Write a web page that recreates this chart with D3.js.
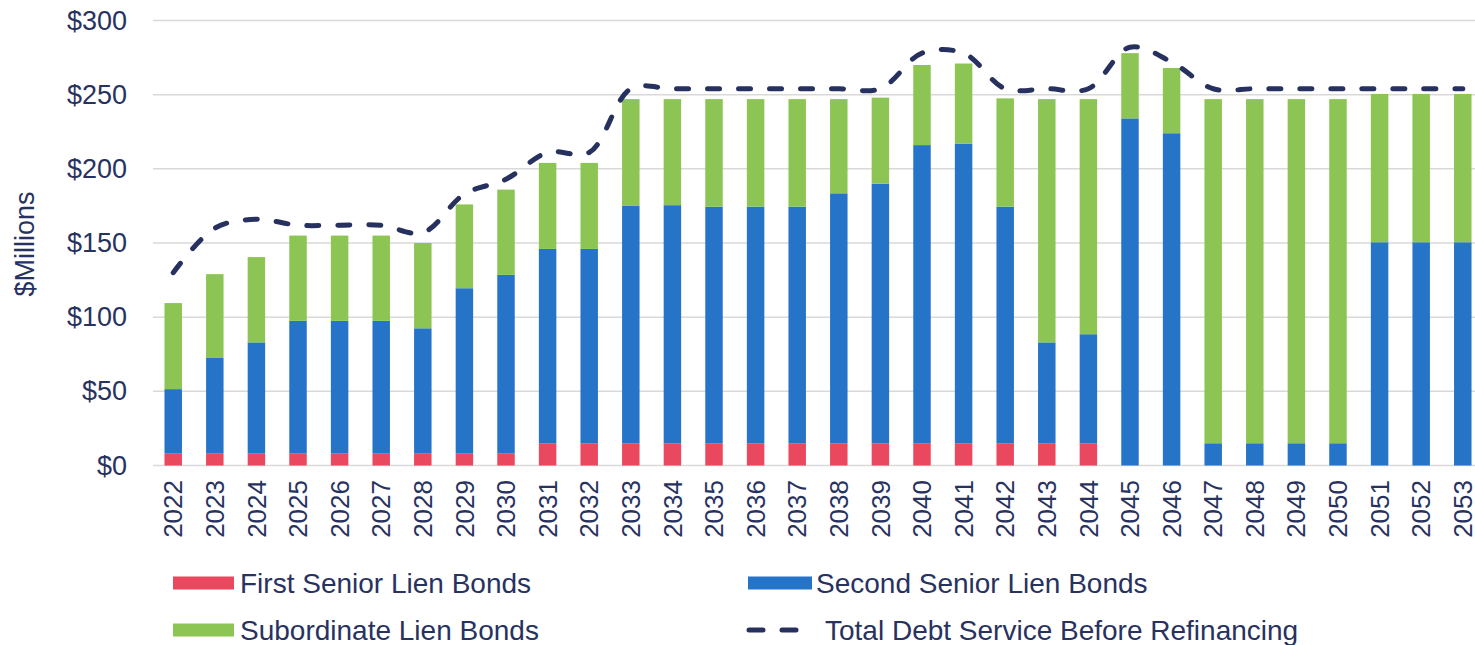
<head></head>
<body style="margin:0;background:#fff">
    <div id = 'chart'></div>
    <script src = 'https://cdn.jsdelivr.net/npm/d3@7'></script>
    <script>
        var width = 1475,
            height = 645;

        var years = ['2022','2023','2024','2025','2026','2027','2028','2029','2030','2031','2032','2033','2034','2035','2036','2037',
                     '2038','2039','2040','2041','2042','2043','2044','2045','2046','2047','2048','2049','2050','2051','2052','2053'];

        // stacked pieces, $ millions
        var firstSenior = [8, 8, 8, 8, 8, 8, 8, 8, 8, 15, 15, 15, 15, 15, 15, 15,
                           15, 15, 15, 15, 15, 15, 15, 0, 0, 0, 0, 0, 0, 0, 0, 0];
        var secondSenior = [43.5, 64.5, 75, 89.5, 89.5, 89.5, 84.5, 111.5, 120.5, 131, 131, 160, 160.5, 159.5, 159.5, 159.5,
                            168.5, 175, 201, 202, 159.5, 68, 73.5, 234, 224, 15, 15, 15, 15, 150.5, 150.5, 150.5];
        var subordinate = [58, 56.5, 57.5, 57.5, 57.5, 57.5, 57.5, 56.5, 57.5, 58, 58, 72, 71.5, 72.5, 72.5, 72.5,
                           63.5, 58, 54, 54, 73, 164, 158.5, 44, 44, 232, 232, 232, 232, 100, 100, 100];
        var totalBefore = [130, 160, 166, 162, 162, 162, 157, 183, 193, 211, 211, 254, 254, 254, 254, 254,
                           254, 254, 278, 278, 254, 254, 254, 282, 272, 254, 254, 254, 254, 254, 254, 254];

        var yTicks = [0, 50, 100, 150, 200, 250, 300];
        var seriesNames = ['First Senior Lien Bonds', 'Second Senior Lien Bonds', 'Subordinate Lien Bonds'];
        var lineName = 'Total Debt Service Before Refinancing';

        var clr = d3.scaleOrdinal()
            .domain(seriesNames)
            .range(['#e9485e', '#2574c8', '#8cc554']);
        var navy = '#27315f';
        var txt = '#28325f';
        var font = 'Liberation Sans, Arial, sans-serif';

        var rows = years.map(function(y, i){
            var r = {year: y};
            r[seriesNames[0]] = firstSenior[i];
            r[seriesNames[1]] = secondSenior[i];
            r[seriesNames[2]] = subordinate[i];
            return r;
        });
        var stacked = d3.stack().keys(seriesNames)(rows);

        var svg = d3.select('#chart')
            .append('svg')
            .attr('width', width)
            .attr('height', height)
            .style('font-family', font);

        var x = d3.scaleBand()
            .domain(years)
            .range([152, 1484])
            .paddingInner(0.58)
            .paddingOuter(0.3);

        var y = d3.scaleLinear()
            .domain([0, 300])
            .range([465.5, 20.5]);

        // gridlines
        svg.append('g')
            .selectAll('line')
            .data(yTicks)
            .enter().append('line')
            .attr('x1', 153).attr('x2', width)
            .attr('y1', function(d){ return y(d); })
            .attr('y2', function(d){ return y(d); })
            .attr('stroke', '#d9d9d9')
            .attr('stroke-width', 1.5);

        // y axis labels
        var yAxis = svg.append('g')
            .attr('transform', 'translate(135,0)')
            .call(d3.axisLeft(y).tickValues(yTicks).tickSize(0).tickPadding(8)
                .tickFormat(function(d){ return '$' + d; }));
        yAxis.select('.domain').remove();
        yAxis.selectAll('text')
            .style('font-family', font)
            .style('font-size', '27px')
            .attr('fill', txt);

        svg.append('text')
            .attr('transform', 'translate(34,244) rotate(-90)')
            .attr('text-anchor', 'middle')
            .style('font-size', '27px')
            .attr('fill', txt)
            .text('$Millions');

        // bars
        svg.append('g')
            .selectAll('g')
            .data(stacked)
            .enter().append('g')
            .attr('fill', function(d){ return clr(d.key); })
            .selectAll('rect')
            .data(function(d){ return d; })
            .enter().append('rect')
            .attr('x', function(d){ return x(d.data.year); })
            .attr('width', x.bandwidth())
            .attr('y', function(d){ return y(d[1]); })
            .attr('height', function(d){ return y(d[0]) - y(d[1]); });

        // total line
        var line = d3.line()
            .x(function(d, i){ return x(years[i]) + x.bandwidth() / 2; })
            .y(function(d){ return y(d); })
            .curve(d3.curveCatmullRom.alpha(0.5));

        svg.append('path')
            .attr('d', line(totalBefore))
            .attr('fill', 'none')
            .attr('stroke', navy)
            .attr('stroke-width', 5)
            .attr('stroke-linecap', 'round')
            .attr('stroke-dasharray', '12,19');

        // x axis labels
        var xAxis = svg.append('g')
            .attr('transform', 'translate(0,474)')
            .call(d3.axisBottom(x).tickSize(0).tickPadding(0));
        xAxis.select('.domain').remove();
        xAxis.selectAll('text')
            .style('font-family', font)
            .style('font-size', '26px')
            .attr('fill', txt)
            .attr('text-anchor', 'end')
            .attr('transform', 'rotate(-90)')
            .attr('x', -6)
            .attr('y', 0)
            .attr('dy', '0.35em');

        // legend
        var legend = [
            {name: seriesNames[0], sx: 173, sy: 583, tx: 240, type: 'rect'},
            {name: seriesNames[1], sx: 748, sy: 583, tx: 816, type: 'rect'},
            {name: seriesNames[2], sx: 173, sy: 630, tx: 240, type: 'rect'},
            {name: lineName, sx: 747, sy: 630, tx: 825, type: 'line'}
        ];
        var lg = svg.append('g').selectAll('g')
            .data(legend)
            .enter().append('g');

        lg.filter(function(d){ return d.type == 'rect'; })
            .append('rect')
            .attr('x', function(d){ return d.sx; })
            .attr('y', function(d){ return d.sy - 6.5; })
            .attr('width', function(d){ return d.sx > 500 ? 64 : 61; })
            .attr('height', 13)
            .attr('fill', function(d){ return clr(d.name); });

        lg.filter(function(d){ return d.type == 'line'; })
            .append('line')
            .attr('x1', function(d){ return d.sx + 2; })
            .attr('x2', function(d){ return d.sx + 52; })
            .attr('y1', function(d){ return d.sy; })
            .attr('y2', function(d){ return d.sy; })
            .attr('stroke', navy)
            .attr('stroke-width', 5)
            .attr('stroke-linecap', 'round')
            .attr('stroke-dasharray', '14,19');

        lg.append('text')
            .attr('x', function(d){ return d.tx; })
            .attr('y', function(d){ return d.sy; })
            .attr('dy', '0.35em')
            .style('font-size', '28px')
            .attr('fill', txt)
            .text(function(d){ return d.name; });
    </script>
</body>
